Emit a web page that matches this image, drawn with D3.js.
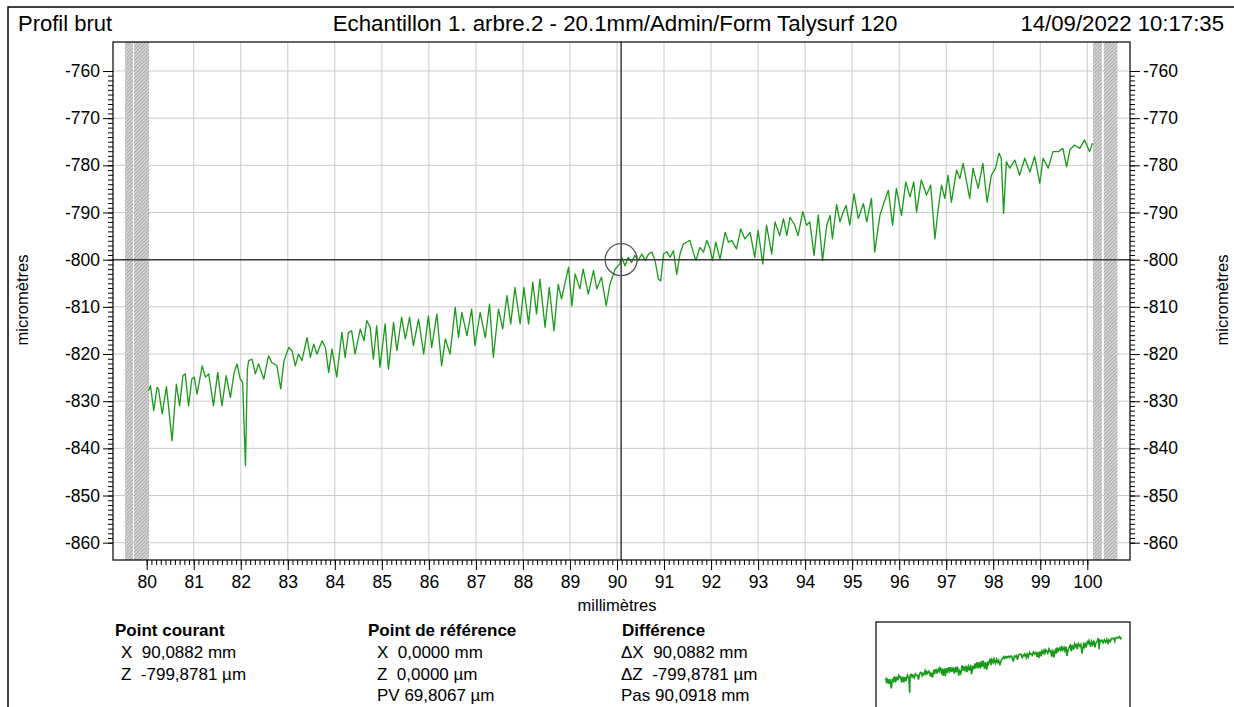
<!DOCTYPE html>
<html>
<head>
<meta charset="utf-8">
<script src="https://cdn.jsdelivr.net/npm/d3@7"></script>
<style>
body { margin: 0; background: #fff; }
svg { display: block; font-family: Arial, "Liberation Sans", sans-serif; }
</style>
</head>
<body>
<div id="chart"></div>
<script>
// Profil brut - Form Talysurf 120

// profile: position (mm) and height (µm)
const profileX = [
  80.04, 80.08, 80.15, 80.22, 80.25, 80.33, 80.42, 80.54, 80.63, 80.70, 80.77, 80.82, 80.89, 80.96,
  81.01, 81.07, 81.18, 81.25, 81.32, 81.42, 81.51, 81.60, 81.69, 81.78, 81.86, 81.92, 81.99,
  82.04, 82.10, 82.14, 82.17, 82.24, 82.31, 82.38, 82.49, 82.59, 82.66, 82.77, 82.85, 82.92,
  83.02, 83.09, 83.16, 83.23, 83.30, 83.41, 83.48, 83.55, 83.62, 83.73, 83.80, 83.87, 83.94,
  84.04, 84.15, 84.22, 84.29, 84.36, 84.43, 84.54, 84.62, 84.68, 84.75, 84.82, 84.89, 84.96,
  85.07, 85.14, 85.25, 85.32, 85.42, 85.50, 85.59, 85.67, 85.78, 85.89, 85.99,
  86.06, 86.17, 86.27, 86.35, 86.45, 86.56, 86.63, 86.70, 86.81, 86.91, 86.98,
  87.09, 87.20, 87.29, 87.37, 87.48, 87.57, 87.66, 87.74, 87.83, 87.94,
  88.02, 88.12, 88.21, 88.29, 88.36, 88.47, 88.56, 88.66, 88.75, 88.82, 88.97,
  89.04, 89.11, 89.21, 89.28, 89.39, 89.50, 89.57, 89.67, 89.77, 89.85, 89.96,
  90.06, 90.10, 90.17, 90.24, 90.31, 90.38, 90.45, 90.53, 90.60, 90.67, 90.74, 90.81, 90.88, 90.93, 90.99,
  91.06, 91.13, 91.20, 91.27, 91.34, 91.41, 91.48, 91.55, 91.62, 91.68, 91.76, 91.84, 91.91, 91.98,
  92.03, 92.10, 92.19, 92.30, 92.37, 92.44, 92.54, 92.63, 92.72, 92.83, 92.93,
  93.00, 93.10, 93.18, 93.29, 93.36, 93.46, 93.54, 93.61, 93.68, 93.78, 93.85, 93.95,
  94.03, 94.10, 94.19, 94.28, 94.37, 94.46, 94.53, 94.58, 94.67, 94.74, 94.81, 94.87, 94.95,
  95.04, 95.13, 95.24, 95.31, 95.41, 95.48, 95.59, 95.67, 95.77, 95.86, 95.94,
  96.05, 96.14, 96.23, 96.31, 96.37, 96.47, 96.58, 96.67, 96.76, 96.83, 96.90, 96.97,
  97.04, 97.11, 97.22, 97.29, 97.36, 97.50, 97.57, 97.68, 97.78, 97.87, 97.96,
  98.05, 98.12, 98.17, 98.22, 98.28, 98.35, 98.46, 98.56, 98.67, 98.78, 98.88, 98.99,
  99.06, 99.17, 99.27, 99.38, 99.48, 99.56, 99.63, 99.73, 99.84, 99.94, 100.05, 100.11
];
const profileZ = [
  -827.8, -826.7, -832.0, -827.1, -827.4, -832.7, -826.9, -838.4, -826.4, -831.0, -824.6, -824.2, -831.0, -825.3,
  -824.9, -828.5, -822.5, -824.9, -824.2, -831.0, -823.9, -831.0, -824.6, -829.2, -823.9, -822.1, -825.3,
  -826.0, -843.7, -823.2, -821.4, -821.1, -824.2, -822.1, -825.3, -820.4, -821.8, -822.5, -827.4, -821.4,
  -818.6, -819.3, -822.5, -820.0, -821.4, -816.5, -820.7, -817.9, -820.0, -817.2, -818.6, -823.9, -818.9,
  -824.9, -815.4, -820.7, -815.4, -815.1, -820.0, -814.7, -817.2, -812.9, -814.3, -821.1, -814.0, -822.8,
  -813.6, -823.2, -813.3, -819.3, -812.2, -816.8, -812.2, -818.2, -812.6, -820.0, -811.9,
  -818.6, -811.5, -822.5, -816.8, -820.0, -810.1, -816.5, -811.2, -816.1, -810.5, -818.2,
  -811.2, -816.5, -809.4, -820.7, -810.5, -814.7, -807.6, -813.6, -805.9, -813.6,
  -805.9, -813.6, -804.8, -811.5, -804.1, -814.3, -805.9, -815.1, -805.2, -808.3, -801.6,
  -809.8, -803.0, -806.2, -802.0, -807.3, -802.3, -806.2, -803.7, -809.8, -805.2, -802.0,
  -800.9, -799.5, -801.3, -799.5, -800.6, -799.1, -800.2, -798.8, -800.2, -798.8, -798.4, -800.2, -804.1, -804.5, -798.8,
  -798.3, -799.5, -798.1, -803.1, -798.8, -796.7, -796.3, -795.9, -798.4, -800.2, -797.4, -798.4, -795.9, -797.7,
  -800.2, -796.3, -799.9, -794.2, -796.3, -795.9, -797.7, -793.5, -795.6, -794.2, -799.5,
  -793.8, -800.9, -792.7, -798.8, -792.0, -794.9, -791.3, -794.9, -791.0, -792.7, -794.9, -789.8,
  -792.7, -792.0, -799.1, -790.5, -800.2, -792.7, -790.6, -795.6, -788.3, -792.0, -789.9, -788.5, -792.7,
  -786.0, -791.3, -788.1, -792.0, -787.0, -798.4, -790.6, -788.1, -785.3, -792.7, -784.9,
  -790.6, -783.5, -786.7, -783.5, -789.9, -783.1, -786.3, -784.2, -795.6, -789.2, -784.2, -787.0,
  -782.1, -787.8, -781.0, -782.8, -779.6, -787.0, -780.6, -784.9, -779.6, -787.8, -782.1,
  -780.6, -777.4, -778.5, -790.2, -779.2, -780.6, -778.9, -782.1, -778.5, -781.4, -778.1, -783.8,
  -778.5, -780.6, -777.1, -777.1, -776.4, -780.3, -776.7, -775.7, -776.4, -774.6, -777.1, -775.3
];

const xTicks = [80, 81, 82, 83, 84, 85, 86, 87, 88, 89, 90, 91, 92, 93, 94, 95, 96, 97, 98, 99, 100];
const yTicks = [-760, -770, -780, -790, -800, -810, -820, -830, -840, -850, -860];

// cursor and reference point
const cursorX = 90.0882, cursorZ = -800;

// masked ends of the profile (mm)
const maskBands = [[79.54, 79.71], [79.73, 80.05], [100.12, 100.31], [100.35, 100.64]];

const headerLeft = "Profil brut",
    headerTitle = "Echantillon 1. arbre.2 - 20.1mm/Admin/Form Talysurf 120",
    headerDate = "14/09/2022 10:17:35";

const infoTitles = ["Point courant", "Point de référence", "Différence"];
const infoLines = [
    ["X  90,0882 mm", "Z  -799,8781 µm"],
    ["X  0,0000 mm", "Z  0,0000 µm", "PV 69,8067 µm"],
    ["ΔX  90,0882 mm", "ΔZ  -799,8781 µm", "Pas 90,0918 mm"]
];

const width = 1234, height = 707;
const plot = {left: 113, top: 42, right: 1130, bottom: 560};
const green = "#179a17";

const data = profileX.map((d, i) => ({x: d, z: profileZ[i]}));

let svg = d3.select("#chart")
    .append("svg")
    .attr("width", width)
    .attr("height", height)
    .attr("viewBox", [0, 0, width, height]);

// outer frame
svg.append("rect")
    .attr("x", 8).attr("y", 7)
    .attr("width", 1240).attr("height", 720)
    .attr("fill", "none")
    .attr("stroke", "#000")
    .attr("stroke-width", 1.5);

// scales
let x = d3.scaleLinear().domain([80, 100]).range([146.7, 1087.3]);
let y = d3.scaleLinear().domain([-760, -860]).range([71, 542.7]);

// hatch pattern for the masked ends
let defs = svg.append("defs");
let pat = defs.append("pattern")
    .attr("id", "hatch")
    .attr("patternUnits", "userSpaceOnUse")
    .attr("width", 2.5).attr("height", 2.5)
    .attr("patternTransform", "rotate(45)");
pat.append("rect").attr("width", 2.5).attr("height", 2.5).attr("fill", "#d4d4d4");
pat.append("line").attr("x1", 0).attr("y1", 0).attr("x2", 0).attr("y2", 2.5)
    .attr("stroke", "#7a7a7a").attr("stroke-width", 0.9);

defs.append("clipPath").attr("id", "clip")
    .append("rect")
    .attr("x", plot.left).attr("y", plot.top)
    .attr("width", plot.right - plot.left).attr("height", plot.bottom - plot.top);

// grid
svg.append("g")
    .selectAll("line")
    .data(xTicks)
    .join("line")
    .attr("x1", d => x(d)).attr("x2", d => x(d))
    .attr("y1", plot.top).attr("y2", plot.bottom)
    .attr("stroke", "#cbcbcb");

svg.append("g")
    .selectAll("line")
    .data(yTicks)
    .join("line")
    .attr("x1", plot.left).attr("x2", plot.right)
    .attr("y1", d => y(d)).attr("y2", d => y(d))
    .attr("stroke", "#cbcbcb");

// masked bands
svg.append("g")
    .selectAll("rect")
    .data(maskBands)
    .join("rect")
    .attr("x", d => x(d[0]))
    .attr("width", d => x(d[1]) - x(d[0]))
    .attr("y", plot.top)
    .attr("height", plot.bottom - plot.top)
    .attr("fill", "url(#hatch)");

// profile line
let line = d3.line()
    .x(d => x(d.x))
    .y(d => y(d.z));

svg.append("path")
    .datum(data)
    .attr("clip-path", "url(#clip)")
    .attr("fill", "none")
    .attr("stroke", green)
    .attr("stroke-width", 1.3)
    .attr("stroke-linejoin", "round")
    .attr("d", line);

// cursor cross and circle
svg.append("line")
    .attr("x1", plot.left).attr("x2", plot.right)
    .attr("y1", y(cursorZ)).attr("y2", y(cursorZ))
    .attr("stroke", "#3a3a3a").attr("stroke-width", 1.5);
svg.append("line")
    .attr("x1", x(cursorX)).attr("x2", x(cursorX))
    .attr("y1", plot.top).attr("y2", plot.bottom)
    .attr("stroke", "#3a3a3a").attr("stroke-width", 1.5);
svg.append("circle")
    .attr("cx", x(cursorX)).attr("cy", y(cursorZ))
    .attr("r", 16)
    .attr("fill", "none")
    .attr("stroke", "#555")
    .attr("stroke-width", 1.3);

// plot border
svg.append("rect")
    .attr("x", plot.left).attr("y", plot.top)
    .attr("width", plot.right - plot.left).attr("height", plot.bottom - plot.top)
    .attr("fill", "none")
    .attr("stroke", "#000")
    .attr("stroke-width", 1.2);

// axes: major and minor ticks
const minorY = d3.range(-860, -759, 1);
const minorX = d3.range(800, 1001, 1).map(d => d / 10);

function styleAxis(g) {
    g.select(".domain").remove();
    g.selectAll("text")
        .style("font-size", "17.5px")
        .style("font-family", "Arial, 'Liberation Sans', sans-serif")
        .attr("fill", "#000");
    g.selectAll("line").attr("stroke", "#000");
}

svg.append("g")
    .attr("transform", `translate(${plot.left},0)`)
    .call(d3.axisLeft(y).tickValues(minorY).tickSize(5).tickFormat(""))
    .call(styleAxis);
svg.append("g")
    .attr("transform", `translate(${plot.left},0)`)
    .call(d3.axisLeft(y).tickValues(yTicks).tickSize(10).tickPadding(3).tickFormat(d => String(d)))
    .call(styleAxis);

svg.append("g")
    .attr("transform", `translate(${plot.right},0)`)
    .call(d3.axisRight(y).tickValues(minorY).tickSize(5).tickFormat(""))
    .call(styleAxis);
svg.append("g")
    .attr("transform", `translate(${plot.right},0)`)
    .call(d3.axisRight(y).tickValues(yTicks).tickSize(10).tickPadding(3).tickFormat(d => String(d)))
    .call(styleAxis);

svg.append("g")
    .attr("transform", `translate(0,${plot.bottom})`)
    .call(d3.axisBottom(x).tickValues(minorX).tickSize(5).tickFormat(""))
    .call(styleAxis);
svg.append("g")
    .attr("transform", `translate(0,${plot.bottom})`)
    .call(d3.axisBottom(x).tickValues(xTicks).tickSize(10).tickPadding(6).tickFormat(d => String(d)))
    .call(styleAxis);

// axis titles
svg.append("text")
    .text("millimètres")
    .attr("x", x(90)).attr("y", 611)
    .attr("text-anchor", "middle")
    .style("font-size", "16.5px");

svg.append("text")
    .text("micromètres")
    .attr("transform", "translate(28,300) rotate(-90)")
    .attr("text-anchor", "middle")
    .style("font-size", "16.5px");
svg.append("text")
    .text("micromètres")
    .attr("transform", "translate(1228,300) rotate(-90)")
    .attr("text-anchor", "middle")
    .style("font-size", "16.5px");

// header
svg.append("text").text(headerLeft)
    .attr("x", 18).attr("y", 31)
    .style("font-size", "22px");
svg.append("text").text(headerTitle)
    .attr("x", 615).attr("y", 31)
    .attr("text-anchor", "middle")
    .style("font-size", "22.3px");
svg.append("text").text(headerDate)
    .attr("x", 1224).attr("y", 31)
    .attr("text-anchor", "end")
    .style("font-size", "22.2px");

// info panel
const colX = [115, 368, 622];
const lineX = [121, 377, 621];
infoTitles.forEach((t, i) => {
    svg.append("text").text(t)
        .attr("x", colX[i]).attr("y", 636)
        .style("font-size", "17px")
        .style("font-weight", "bold");
    infoLines[i].forEach((s, j) => {
        svg.append("text").text(s)
            .attr("x", lineX[i]).attr("y", 658 + j * 21.5)
            .style("font-size", "17px")
            .style("white-space", "pre")
            .attr("xml:space", "preserve");
    });
});

// overview thumbnail
svg.append("rect")
    .attr("x", 876).attr("y", 622)
    .attr("width", 254).attr("height", 100)
    .attr("fill", "#fff")
    .attr("stroke", "#000")
    .attr("stroke-width", 1.2);

let xs = d3.scaleLinear().domain([80, 100]).range([885, 1120]);
let ys = d3.scaleLinear().domain([-845, -770]).range([693.8, 632.9]);

svg.append("path")
    .datum(data)
    .attr("fill", "none")
    .attr("stroke", green)
    .attr("stroke-width", 1.6)
    .attr("d", d3.line().x(d => xs(d.x)).y(d => ys(d.z)));
</script>
</body>
</html>
